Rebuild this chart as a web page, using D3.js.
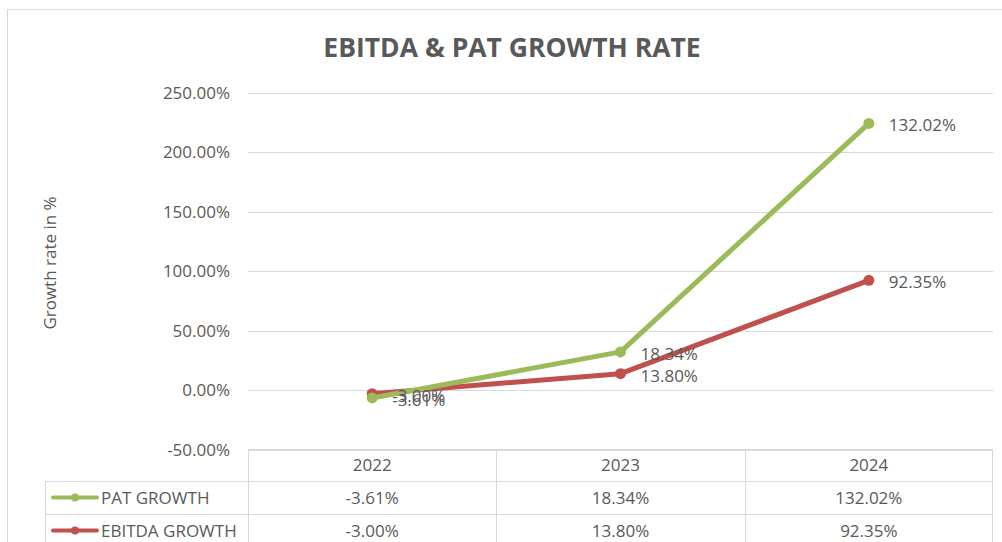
<!DOCTYPE html>
<html>
<head>
<meta charset="utf-8">
<script src="https://cdn.jsdelivr.net/npm/d3@7"></script>
<style>
  body { margin: 0; background: #fff; }
  text { font-family: "Open Sans", "Noto Sans", sans-serif; fill: #595959; }
</style>
</head>
<body>
<div id="vis"></div>
<script>
const years = ["2022", "2023", "2024"];
const ebitdaGrowth = [-3.00, 13.80, 92.35];
const patGrowth = [-3.61, 18.34, 132.02];
const yTicks = [-50, 0, 50, 100, 150, 200, 250];

const seriesInfo = [
  { key: "EBITDA GROWTH", values: ebitdaGrowth, color: "#C0504D" },
  { key: "PAT GROWTH", values: patGrowth, color: "#9BBB59" }
];

const width = 1002, height = 542;
const svg = d3.select("#vis").append("svg").attr("width", width).attr("height", height);

// chart border
svg.append("rect").attr("x", 7.5).attr("y", 9.5).attr("width", 1010).attr("height", 560)
  .attr("fill", "none").attr("stroke", "#d9d9d9");

svg.append("text")
  .attr("x", 512).attr("y", 57)
  .attr("text-anchor", "middle")
  .style("font-size", "26.5px").style("font-weight", "bold")
  .text("EBITDA & PAT GROWTH RATE");

const x = d3.scaleBand().domain(years).range([248, 993]);
const y = d3.scaleLinear().domain([-50, 250]).range([449.5, 93]);

// stacked line (Excel style): PAT drawn on top of EBITDA
const rows = years.map((yr, i) => {
  const r = { year: yr };
  seriesInfo.forEach(s => r[s.key] = s.values[i]);
  return r;
});
const stacked = d3.stack().keys(seriesInfo.map(s => s.key))(rows);

// gridlines
svg.append("g").selectAll("line")
  .data(yTicks)
  .enter().append("line")
  .attr("x1", 248).attr("x2", 993)
  .attr("y1", d => Math.round(y(d)) + 0.5).attr("y2", d => Math.round(y(d)) + 0.5)
  .attr("stroke", "#d9d9d9");

// y axis labels
svg.append("g").selectAll("text")
  .data(yTicks)
  .enter().append("text")
  .attr("x", 230).attr("y", d => y(d) + 6)
  .attr("text-anchor", "end")
  .style("font-size", "17px")
  .text(d => d.toFixed(2) + "%");

svg.append("text")
  .attr("transform", "translate(56,263) rotate(-90)")
  .attr("text-anchor", "middle")
  .style("font-size", "17px")
  .text("Growth rate in %");

const cx = d => x(d.data.year) + x.bandwidth() / 2;
const line = d3.line().x(cx).y(d => y(d[1]));

stacked.forEach((layer, si) => {
  const s = seriesInfo[si];
  svg.append("path")
    .datum(layer)
    .attr("d", line)
    .attr("fill", "none")
    .attr("stroke", s.color)
    .attr("stroke-width", 5)
    .attr("stroke-linejoin", "round")
    .attr("stroke-linecap", "round");
  svg.append("g").selectAll("circle")
    .data(layer)
    .enter().append("circle")
    .attr("cx", cx).attr("cy", d => y(d[1]))
    .attr("r", 5.5)
    .attr("fill", s.color);
});

// data labels
stacked.forEach((layer, si) => {
  const s = seriesInfo[si];
  svg.append("g").selectAll("text")
    .data(layer)
    .enter().append("text")
    .attr("x", d => cx(d) + 20)
    .attr("y", d => y(d[1]) + 8)
    .style("font-size", "17px")
    .text((d, i) => s.values[i].toFixed(2) + "%");
});

// data table
const tbl = svg.append("g").attr("stroke", "#d9d9d9").attr("fill", "none");
const rowTop = [449.5, 481.5, 514.5];
tbl.append("line").attr("x1", 248).attr("x2", 993).attr("y1", rowTop[0]).attr("y2", rowTop[0]);
tbl.append("line").attr("x1", 45.5).attr("x2", 993).attr("y1", rowTop[1]).attr("y2", rowTop[1]);
tbl.append("line").attr("x1", 45.5).attr("x2", 993).attr("y1", rowTop[2]).attr("y2", rowTop[2]);
tbl.append("line").attr("x1", 45.5).attr("x2", 45.5).attr("y1", rowTop[1]).attr("y2", 560);
years.forEach(yr => {
  tbl.append("line").attr("x1", Math.round(x(yr)) + 0.5).attr("x2", Math.round(x(yr)) + 0.5)
    .attr("y1", rowTop[0]).attr("y2", 560);
});
tbl.append("line").attr("x1", 992.5).attr("x2", 992.5).attr("y1", rowTop[0]).attr("y2", 560);

svg.append("g").selectAll("text")
  .data(years)
  .enter().append("text")
  .attr("x", d => x(d) + x.bandwidth() / 2)
  .attr("y", 471)
  .attr("text-anchor", "middle")
  .style("font-size", "17px")
  .text(d => d);

const tableRows = [seriesInfo[1], seriesInfo[0]];
tableRows.forEach((s, ri) => {
  const ty = rowTop[ri + 1] + 22;
  const g = svg.append("g");
  g.append("line").attr("x1", 53).attr("x2", 97).attr("y1", ty - 6).attr("y2", ty - 6)
    .attr("stroke", s.color).attr("stroke-width", 4).attr("stroke-linecap", "round");
  g.append("circle").attr("cx", 75).attr("cy", ty - 6).attr("r", 4).attr("fill", s.color);
  g.append("text").attr("x", 101).attr("y", ty).style("font-size", "17px").text(s.key);
  g.selectAll("text.v")
    .data(s.values)
    .enter().append("text")
    .attr("class", "v")
    .attr("x", (d, i) => x(years[i]) + x.bandwidth() / 2)
    .attr("y", ty)
    .attr("text-anchor", "middle")
    .style("font-size", "17px")
    .text(d => d.toFixed(2) + "%");
});
</script>
</body>
</html>
